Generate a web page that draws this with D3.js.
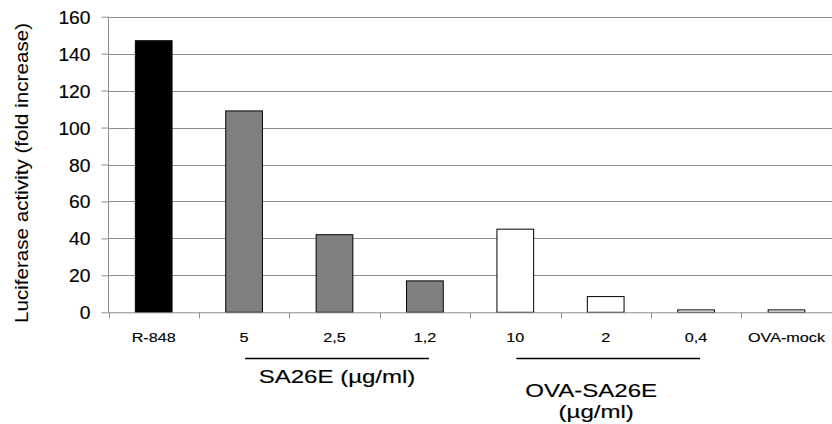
<!DOCTYPE html>
<html>
<head>
<meta charset="UTF-8">
<script src="https://cdn.jsdelivr.net/npm/d3@7"></script>
<style>
  body { margin: 0; background: #fff; }
  text { font-family: "Liberation Sans", Arial, sans-serif; fill: #000; stroke: #000; stroke-width: 0.15px; }
</style>
</head>
<body>
<svg id="chart" width="832" height="424"></svg>
<script>
// data
const categories = ["R-848", "5", "2,5", "1,2", "10", "2", "0,4", "OVA-mock"];
const values     = [147, 109, 42, 17, 45, 8.5, 1.3, 1.3];
const fills      = ["#000000", "#808080", "#808080", "#808080", "#ffffff", "#ffffff", "#ffffff", "#ffffff"];
const yTicks     = [0, 20, 40, 60, 80, 100, 120, 140, 160];
const groups     = [
  { from: "5",  to: "1,2", lines: ["SA26E (µg/ml)"] },
  { from: "10", to: "0,4", lines: ["OVA-SA26E", "(µg/ml)"] }
];
const yTitle = "Luciferase activity (fold increase)";

// layout
const x0 = 108.5, x1 = 832, yTop = 16.7, yBase = 312.3;
const band = 90.4;
const groupTextShift = [0, -17];   // label centre relative to bracket centre

const svg = d3.select("#chart");

const x = d3.scaleBand()
    .domain(categories)
    .range([x0, x0 + band * categories.length])
    .paddingInner(0).paddingOuter(0);
const y = d3.scaleLinear().domain([0, 160]).range([yBase, yTop]);

// gridlines
svg.append("g").selectAll("line")
  .data(yTicks.filter(d => d > 0))
  .join("line")
    .attr("x1", x0).attr("x2", x1)
    .attr("y1", d => Math.round(y(d)) + 0.5).attr("y2", d => Math.round(y(d)) + 0.5)
    .attr("stroke", "#8e8e8e").attr("stroke-width", 1);

// y axis
const yAxis = svg.append("g")
    .attr("transform", `translate(${x0},0)`)
    .call(d3.axisLeft(y).tickValues(yTicks).tickSize(7).tickPadding(11).tickFormat(d3.format("d")));
yAxis.select(".domain").attr("stroke", "#8e8e8e").attr("d", `M0,${yTop}V${yBase}`);
yAxis.selectAll(".tick line").attr("stroke", "#8e8e8e");
yAxis.selectAll(".tick text").remove();
yAxis.selectAll(".tick").append("text")
    .attr("transform", "translate(-18,6.5) scale(1.07,1)")
    .attr("text-anchor", "end")
    .attr("font-size", 18)
    .text(d => d);

// bars
const barW = band * 0.406;
svg.append("g").selectAll("rect")
  .data(values)
  .join("rect")
    .attr("x", (d, i) => x(categories[i]) + (band - barW) / 2)
    .attr("y", d => y(d))
    .attr("width", barW)
    .attr("height", d => yBase - y(d))
    .attr("fill", (d, i) => fills[i])
    .attr("stroke", "#000").attr("stroke-width", 1);

// x axis baseline and ticks between categories
svg.append("line")
    .attr("x1", x0).attr("x2", x1).attr("y1", yBase + 0.5).attr("y2", yBase + 0.5)
    .attr("stroke", "#8e8e8e");
svg.append("g").selectAll("line")
  .data(d3.range(categories.length))
  .join("line")
    .attr("x1", i => Math.round(x0 + band * i) + 0.5).attr("x2", i => Math.round(x0 + band * i) + 0.5)
    .attr("y1", yBase).attr("y2", yBase + 6)
    .attr("stroke", "#8e8e8e");

// stretched text helper
function stretchText(g, str, cx, cy, size, sx) {
  g.append("text")
    .attr("transform", `translate(${cx},${cy}) scale(${sx},1)`)
    .attr("text-anchor", "middle")
    .attr("font-size", size)
    .text(str);
}

const labels = svg.append("g");
categories.forEach(c => stretchText(labels, c, x(c) + band / 2, 341.5, 13.5, 1.2));

// group brackets
groups.forEach((gr, gi) => {
  const gx1 = x(gr.from) + band / 2 + 1;
  const gx2 = x(gr.to) + band / 2 + 4;
  svg.append("line")
      .attr("x1", gx1).attr("x2", gx2).attr("y1", 358.5).attr("y2", 358.5)
      .attr("stroke", "#000").attr("stroke-width", 1.3);
  const cx = (gx1 + gx2) / 2 + groupTextShift[gi];
  gr.lines.forEach((t, k) => stretchText(svg, t, cx + (k ? 5 : 0), 383 + (gr.lines.length > 1 ? 14 : 0) + k * 21, 18.5, 1.3));
});

// y title
svg.append("text")
    .attr("transform", `translate(28,${(23 + 323) / 2}) rotate(-90)`)
    .attr("text-anchor", "middle")
    .attr("font-size", 19)
    .style("stroke-width", "0.05px")
    .attr("textLength", 300).attr("lengthAdjust", "spacingAndGlyphs")
    .text(yTitle);
</script>
</body>
</html>
